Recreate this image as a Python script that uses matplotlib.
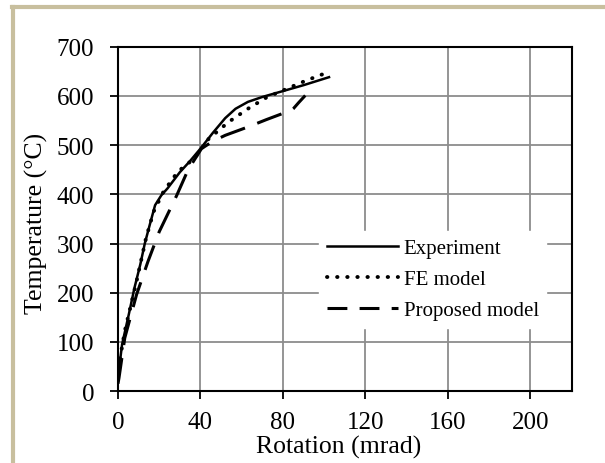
import matplotlib.pyplot as plt
from matplotlib.lines import Line2D

plt.rcParams['font.family'] = ['Liberation Serif', 'DejaVu Serif']

# Experiment
exp_x = [0, 0.5, 2, 5.2, 8, 10.8, 13, 15.4, 18, 21, 24, 30, 35, 40, 46, 52, 57, 63, 70, 80, 90, 102.9]
exp_y = [20, 45, 95, 155, 210, 257, 300, 338, 378, 398, 412, 445, 468, 493, 525, 555, 574, 588, 598, 610, 622, 639]

# FE model
fe_x = [0, 0.5, 3.3, 6, 9, 13.6, 17.3, 22, 29, 37, 44, 53.6, 63, 72, 81.5, 91, 101]
fe_y = [25, 54, 122, 170, 223, 311, 365, 405, 446, 473, 513, 547, 574, 597, 614, 631, 647]

# Proposed model
pm_x = [0, 0.5, 3.3, 9, 14.5, 20, 28.5, 34, 40.5, 46, 52, 63, 72, 79.6, 83, 85, 87.5, 90.8]
pm_y = [15, 27, 108, 196, 263, 324, 398, 450, 493, 508, 520, 537, 552, 564, 567, 574, 586, 601]

x_ticks = [0, 40, 80, 120, 160, 200]
y_ticks = [0, 100, 200, 300, 400, 500, 600, 700]

dot_style = (0, (0.1, 2.5))
dash_style = (0, (8.5, 4.3))

fig = plt.figure(figsize=(6.05, 4.64), dpi=100)
ax = fig.add_axes([0.195, 0.155, 0.75, 0.742])

ax.plot(exp_x, exp_y, color='black', lw=1.8, solid_capstyle='butt', zorder=3)
ax.plot(fe_x, fe_y, color='black', lw=2.8, linestyle=dot_style,
        dash_capstyle='round', zorder=3)
ax.plot(pm_x, pm_y, color='black', lw=2.2, linestyle=dash_style,
        dash_capstyle='butt', zorder=3)

ax.set_xlim(0, 220)
ax.set_ylim(0, 700)
ax.set_xticks(x_ticks)
ax.set_yticks(y_ticks)
ax.grid(True, color='#8c8c8c', lw=1.3)
ax.set_axisbelow(True)
for s in ax.spines.values():
    s.set_linewidth(1.5)
    s.set_color('black')
ax.tick_params(direction='out', length=6, width=1.3, labelsize=18)
ax.tick_params(axis='x', pad=8)
ax.tick_params(axis='y', pad=11)

ax.set_xlabel('Rotation (mrad)', fontsize=18.5)
ax.set_ylabel('Temperature (°C)', fontsize=18.5)
ax.xaxis.set_label_coords(0.487, -0.128)
ax.yaxis.set_label_coords(-0.155, 0.49)

handles = [
    Line2D([], [], color='black', lw=1.8),
    Line2D([], [], color='black', lw=2.8, linestyle=dot_style, dash_capstyle='round'),
    Line2D([], [], color='black', lw=2.2, linestyle=(0, (6.5, 4))),
]
leg = ax.legend(handles, ['Experiment', 'FE model', 'Proposed model'],
                loc='lower left', bbox_to_anchor=(0.444, 0.184), fontsize=15,
                frameon=True, fancybox=False, framealpha=1, edgecolor='white',
                handlelength=3.4, handletextpad=0.3, labelspacing=0.55,
                borderpad=0.35, borderaxespad=0)

# khaki frame on left and top of figure
fig.add_artist(Line2D([0.022, 0.022], [0, 0.982], color='#c8bf9e', lw=3,
                      transform=fig.transFigure))
fig.add_artist(Line2D([0.02, 1.0], [0.982, 0.982], color='#c8bf9e', lw=3,
                      transform=fig.transFigure))

fig.savefig('out.png', dpi=100)
